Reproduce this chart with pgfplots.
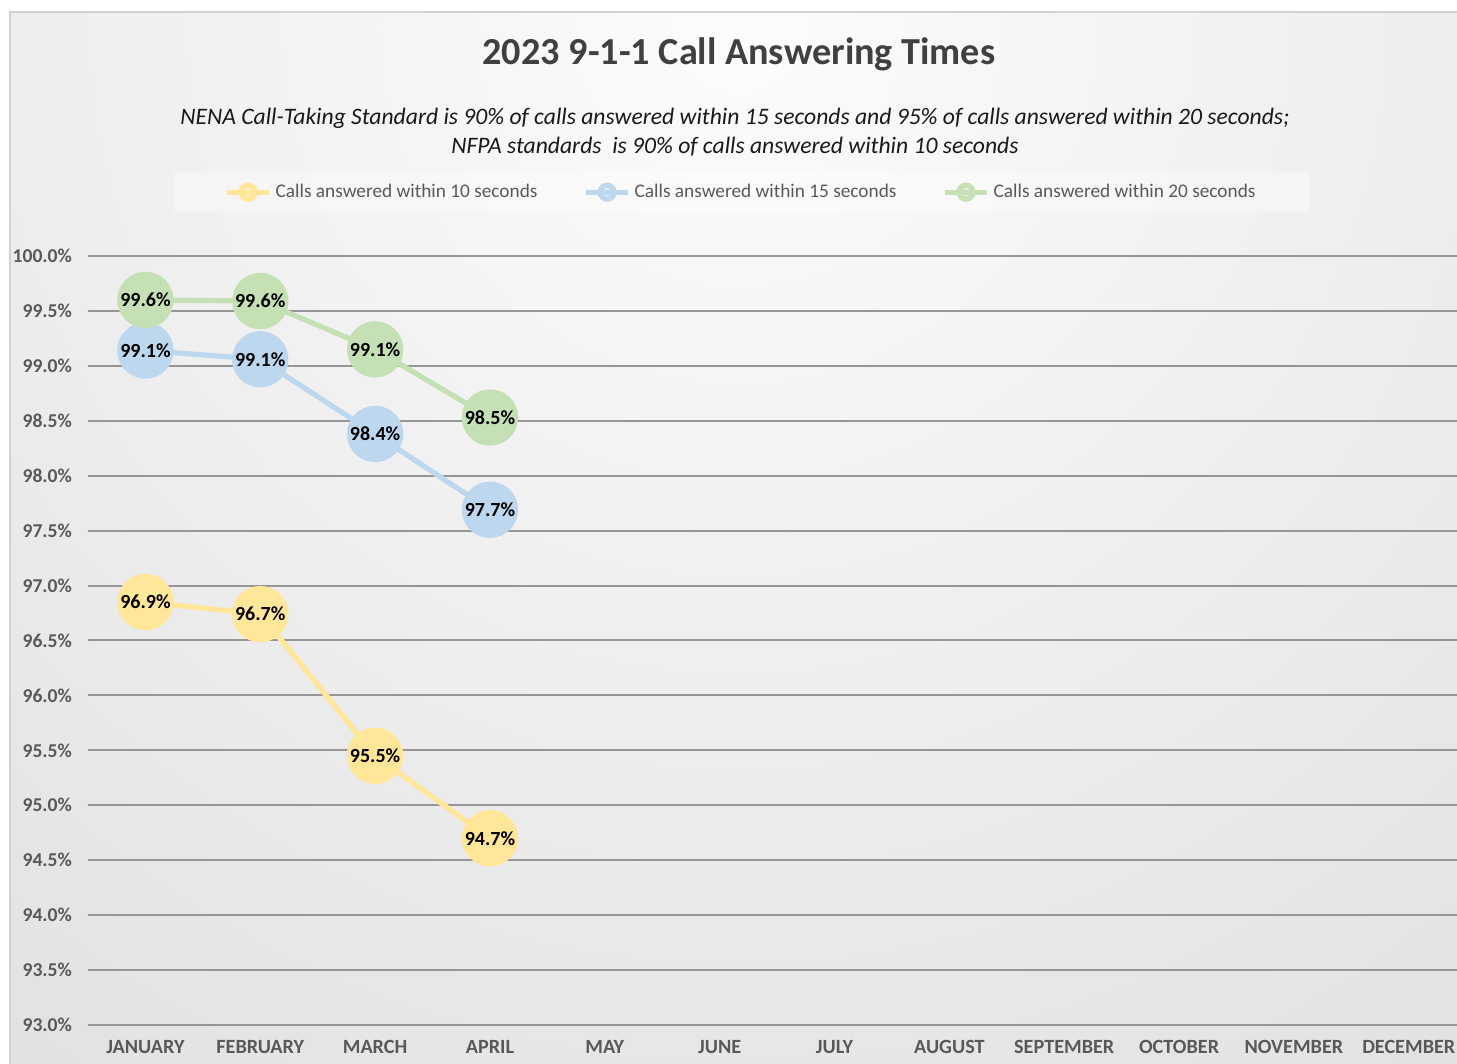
\documentclass[border=0pt]{standalone}
\usepackage{fontspec}
\setmainfont{Carlito}
\usepackage{pgfplots}
\pgfplotsset{compat=1.18}
\usepackage{pgfplotstable}

\definecolor{cyel}{RGB}{255,230,153}
\definecolor{cblu}{RGB}{189,215,238}
\definecolor{cgrn}{RGB}{197,224,180}
\definecolor{ctxt}{RGB}{89,89,89}
\definecolor{cgrid}{RGB}{150,150,150}
\definecolor{ctitle}{RGB}{64,64,64}
\definecolor{bgin}{RGB}{252,252,252}
\definecolor{bgout}{RGB}{194,194,194}
\definecolor{cborder}{RGB}{210,210,210}

\pgfplotstableread{
x y label
0 96.85 96.9
1 96.74 96.7
2 95.45 95.5
3 94.70 94.7
}\tenS
\pgfplotstableread{
x y label
0 99.14 99.1
1 99.06 99.1
2 98.38 98.4
3 97.69 97.7
}\fifteenS
\pgfplotstableread{
x y label
0 99.60 99.6
1 99.59 99.6
2 99.15 99.1
3 98.53 98.5
}\twentyS

\begin{document}
\begin{tikzpicture}
\useasboundingbox (0,0) rectangle (728.5pt,532pt);
\fill[white] (0,0) rectangle (728.5pt,532pt);
\begin{scope}
\clip (5pt,0pt) rectangle (728.5pt,526pt);
\shade[inner color=bgin, outer color=bgout] (369pt,520pt) circle (1400pt);
\end{scope}
\draw[cborder, line width=0.6pt] (5pt,-1pt) -- (5pt,526pt) -- (730pt,526pt);

\node[font=\bfseries\fontsize{19.1}{22}\selectfont, text=ctitle] at (369.5pt,505pt) {2023 9-1-1 Call Answering Times};
\node[font=\itshape\fontsize{11.8}{14.5}\selectfont, align=center, text=black!90] at (367.5pt,466pt)
 {NENA Call-Taking Standard is 90\% of calls answered within 15 seconds and 95\% of calls answered within 20 seconds;\\NFPA standards\ \ is 90\% of calls answered within 10 seconds};

\begin{axis}[
  at={(44pt,19.5pt)}, anchor=south west,
  scale only axis, width=684.5pt, height=384.5pt,
  xmin=-0.5, xmax=11.42, ymin=93, ymax=100,
  xtick={0,1,2,3,4,5,6,7,8,9,10,11},
  xticklabels={JANUARY,FEBRUARY,MARCH,APRIL,MAY,JUNE,JULY,AUGUST,SEPTEMBER,OCTOBER,NOVEMBER,DECEMBER},
  ytick={93,93.5,94,94.5,95,95.5,96,96.5,97,97.5,98,98.5,99,99.5,100},
  ymajorgrids, major grid style={cgrid, line width=1pt},
  axis line style={draw=none}, major tick length=0pt,
  xticklabel style={font=\bfseries\fontsize{10.1}{12}\selectfont, text=ctxt, yshift=-4.3pt},
  yticklabel style={font=\bfseries\fontsize{9.8}{12}\selectfont, text=ctxt, xshift=-4.5pt},
  /pgf/number format/assume math mode=true,
  yticklabel={\pgfmathprintnumber[fixed,fixed zerofill,precision=1]{\tick}\%},
  clip=false,
  legend style={at={(0.4777,1.083)}, anchor=center, legend columns=3, draw=none,
    fill=white, fill opacity=0.35, text opacity=1,
    font=\fontsize{9.65}{11}\selectfont, text=ctxt,
    inner xsep=25pt, inner ysep=4pt,
    /tikz/every even column/.append style={column sep=21pt}},
  legend image code/.code={\draw[mark repeat=2,mark phase=2,#1,mark size=3.5pt] plot coordinates {(0pt,0pt)(10.5pt,0pt)(21pt,0pt)};},
  every node near coord/.append style={anchor=center, font=\bfseries\fontsize{10}{12}\selectfont, text=black},
  nodes near coords={\pgfplotspointmeta\%},
  point meta=explicit symbolic,
]
\addplot[cyel, line width=2.6pt, mark=*, mark size=12.8pt, mark options={fill=cyel, draw=cyel}] table[x=x,y=y,meta=label]{\tenS};
\addlegendentry{Calls answered within 10 seconds}
\addplot[cblu, line width=2.6pt, mark=*, mark size=12.8pt, mark options={fill=cblu, draw=cblu}] table[x=x,y=y,meta=label]{\fifteenS};
\addlegendentry{Calls answered within 15 seconds}
\addplot[cgrn, line width=2.6pt, mark=*, mark size=12.8pt, mark options={fill=cgrn, draw=cgrn}] table[x=x,y=y,meta=label]{\twentyS};
\addlegendentry{Calls answered within 20 seconds}
\end{axis}
\end{tikzpicture}
\end{document}
